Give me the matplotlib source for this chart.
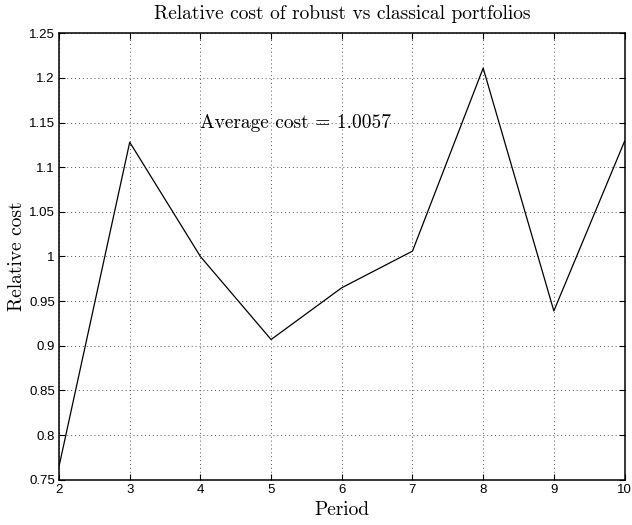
import matplotlib
matplotlib.use("Agg")
import matplotlib.pyplot as plt

# relative cost per period (robust / classical)
periods = [2, 3, 4, 5, 6, 7, 8, 9, 10]
rel_cost = [0.765, 1.128, 1.000, 0.907, 0.965, 1.006, 1.211, 0.939, 1.129]
avg_label = "Average cost = 1.0057"
yticks = [0.75, 0.8, 0.85, 0.9, 0.95, 1.0, 1.05, 1.1, 1.15, 1.2, 1.25]
ytick_labels = ["0.75", "0.8", "0.85", "0.9", "0.95", "1", "1.05", "1.1", "1.15", "1.2", "1.25"]

serif = "cmr10"
sans = ["Liberation Sans", "DejaVu Sans"]

fig = plt.figure(figsize=(6.32, 5.25), dpi=100)
ax = fig.add_axes([0.0934, 0.0863, 0.8948, 0.8503])

ax.plot(periods, rel_cost, color="black", linewidth=0.9)
ax.text(4, 1.15, avg_label, family=serif, fontsize=14, va="center", ha="left")

ax.set_xlim(2, 10)
ax.set_ylim(0.75, 1.25)
ax.set_xticks(periods)
ax.set_yticks(yticks)
ax.set_yticklabels(ytick_labels)
for lbl in ax.get_xticklabels() + ax.get_yticklabels():
    lbl.set_family(sans)
    lbl.set_fontsize(9.5)

ax.tick_params(direction="in", length=4, width=0.8, top=True, right=True, pad=3)
ax.grid(True, linestyle=(0, (1, 3)), color="#555555", linewidth=0.7)
for s in ax.spines.values():
    s.set_linewidth(1.1)

ax.set_title("Relative cost of robust vs classical portfolios", family=serif, fontsize=14, pad=10)
ax.set_xlabel("Period", family=serif, fontsize=14, labelpad=4)
ax.set_ylabel("Relative cost", family=serif, fontsize=14)
# right edge of the rotated label sits ~33 px left of the axes
ax.yaxis.set_label_coords(-33 / 565.5, 0.5)

fig.savefig("out.png", dpi=100)
